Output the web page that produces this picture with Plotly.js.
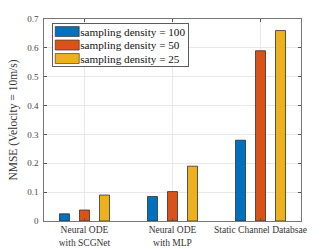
<!DOCTYPE html>
<html><head><meta charset="utf-8">
<script src="https://cdn.plot.ly/plotly-3.0.1.min.js"></script>
<style>html,body{margin:0;padding:0;background:#fff}#c{width:332px;height:249px}</style>
</head><body><div id="c"></div>
<script>
const categories = ['Neural ODE<br>with SCGNet', 'Neural ODE<br>with MLP', 'Static Channel Databsae'];
const seriesNames = ['sampling density = 100', 'sampling density = 50', 'sampling density = 25'];
const density100 = [0.025, 0.085, 0.28];
const density50 = [0.038, 0.102, 0.59];
const density25 = [0.09, 0.19, 0.66];
const yTicks = [0, 0.1, 0.2, 0.3, 0.4, 0.5, 0.6, 0.7];
const colors = ['#0072BD', '#D95319', '#EDB120'];

const F = 'Liberation Serif';
const data = [density100, density50, density25].map((v, i) => ({
  type: 'bar', x: categories, y: v, name: seriesNames[i],
  marker: {color: colors[i], line: {color: 'rgba(40,40,40,0.75)', width: 1}}
}));
const layout = {
  width: 332, height: 249,
  margin: {l: 44, r: 31, t: 19, b: 28},
  paper_bgcolor: '#fff', plot_bgcolor: '#fff',
  barmode: 'group', bargap: 0.318, bargroupgap: 0.5,
  font: {family: F, color: '#333'},
  showlegend: true,
  legend: {x: 0.032, y: 0.98, xanchor: 'left', yanchor: 'top',
    bgcolor: '#fff', bordercolor: '#333', borderwidth: 0.8,
    font: {family: F, size: 11.2, color: '#111'}, tracegroupgap: 0},
  xaxis: {type: 'category', range: [-0.46, 2.46], showgrid: true, gridcolor: '#e8e8e8',
    showline: true, linecolor: '#555', linewidth: 0.8, mirror: 'ticks',
    ticks: 'inside', ticklen: 3, tickcolor: '#555', tickfont: {family: F, size: 9.5, color: '#333'},
    zeroline: false, fixedrange: true},
  yaxis: {range: [0, 0.7], tickvals: yTicks, ticktext: yTicks.map(String), showgrid: true, gridcolor: '#e8e8e8',
    showline: true, linecolor: '#555', linewidth: 0.8, mirror: 'ticks',
    ticks: 'inside', ticklen: 3, tickcolor: '#555', tickfont: {family: F, size: 9, color: '#444'},
    ticklabelstandoff: 3,
    title: {text: 'NMSE (Velocity = 10m/s)', font: {family: F, size: 11.5, color: '#333'}, standoff: 7},
    zeroline: false, fixedrange: true}
};
Plotly.newPlot('c', data, layout, {staticPlot: true, displayModeBar: false}).then(gd => {
  // compact MATLAB-style legend: wide swatches, tight rows
  const leg = gd.querySelector('.legend');
  if (!leg) return;
  const traces = leg.querySelectorAll('.traces');
  const rowH = 13.5, top = 8.5;
  traces.forEach((t, i) => {
    t.setAttribute('transform', `translate(0,${top + i * rowH})`);
    const p = t.querySelector('.legendpoints path');
    if (p) { p.setAttribute('d', 'M-12,5H12V-5H-12Z'); p.setAttribute('transform', 'translate(15,0)'); p.style.strokeWidth = '0.8px'; }
    const tx = t.querySelector('text.legendtext');
    if (tx) { tx.setAttribute('x', 28); tx.setAttribute('y', 4); }
    const r = t.querySelector('rect.legendtoggle');
    if (r) r.setAttribute('height', rowH);
  });
  const bg = leg.querySelector('rect.bg');
  let w = 0;
  traces.forEach(t => { const tx = t.querySelector('text.legendtext'); if (tx) w = Math.max(w, tx.getComputedTextLength()); });
  if (bg) { bg.setAttribute('width', 28 + w + 3); bg.setAttribute('height', top + 2 * rowH + 7.5); }
  const sb = leg.querySelector('.scrollbox');
  if (sb) sb.removeAttribute('clip-path');
});
</script></body></html>
